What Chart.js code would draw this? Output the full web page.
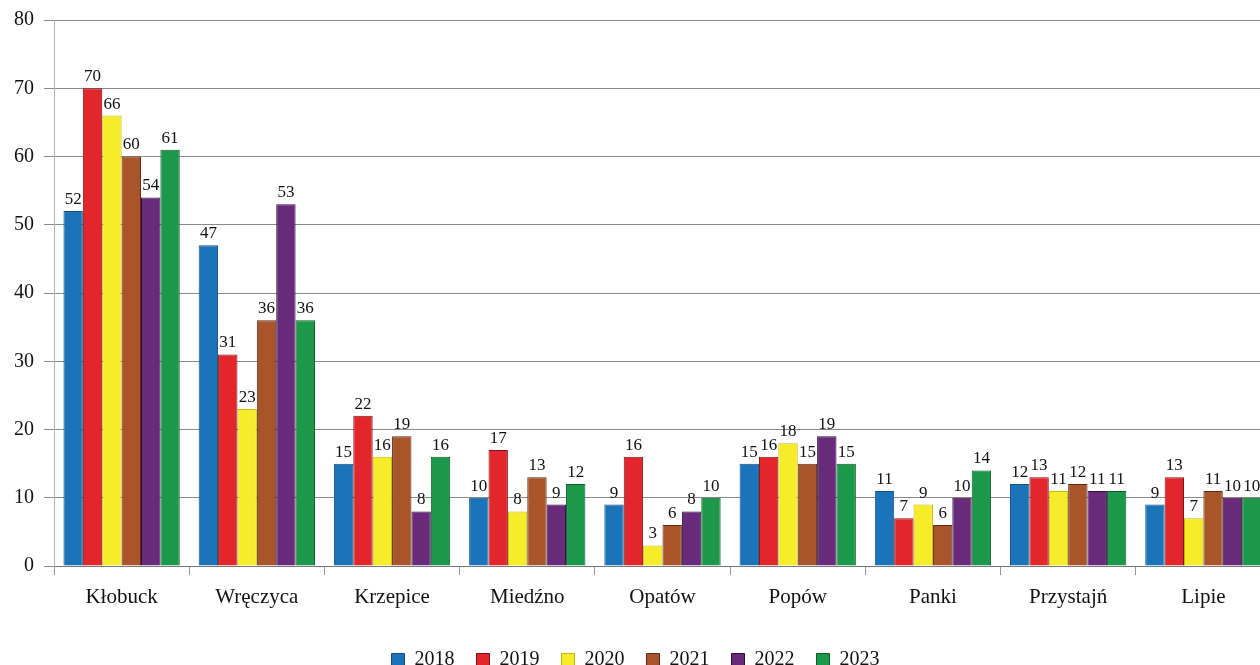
<!DOCTYPE html>
<html>
<head>
<meta charset="utf-8">
<script src="https://cdn.jsdelivr.net/npm/chart.js@4.4.1/dist/chart.umd.min.js"></script>
<style>
  html, body { margin: 0; padding: 0; background: #fff; overflow: hidden; }
  #wrap { width: 1272px; height: 680px; }
</style>
</head>
<body>
<div id="wrap"><canvas id="gminyChart" width="1272" height="680"></canvas></div>
<script>
// gminy
const categories = ['Kłobuck', 'Wręczyca', 'Krzepice', 'Miedźno', 'Opatów', 'Popów', 'Panki', 'Przystajń', 'Lipie'];
const years = ['2018', '2019', '2020', '2021', '2022', '2023'];

// values per year, same order as categories
const v2018 = [52, 47, 15, 10, 9, 15, 11, 12, 9];
const v2019 = [70, 31, 22, 17, 16, 16, 7, 13, 13];
const v2020 = [66, 23, 16, 8, 3, 18, 9, 11, 7];
const v2021 = [60, 36, 19, 13, 6, 15, 6, 12, 11];
const v2022 = [54, 53, 8, 9, 8, 19, 10, 11, 10];
const v2023 = [61, 36, 16, 12, 10, 15, 14, 11, 10];

const yTicks = [0, 10, 20, 30, 40, 50, 60, 70, 80];

const fills = ['#1b74b9', '#e3262b', '#f6ec2a', '#a9552c', '#6a2a7c', '#1b9849'];
const edges = ['#164f80', '#7a1414', '#c9b800', '#5e2a12', '#2e0f38', '#0f5a2a'];

const serif = "'Liberation Serif', 'DejaVu Serif', serif";

// value labels above bars
const barLabels = {
  id: 'barLabels',
  afterDatasetsDraw(chart) {
    const ctx = chart.ctx;
    ctx.save();
    ctx.font = '17px ' + serif;
    ctx.fillStyle = '#111';
    ctx.textAlign = 'center';
    ctx.textBaseline = 'bottom';
    chart.data.datasets.forEach((ds, i) => {
      chart.getDatasetMeta(i).data.forEach((bar, j) => {
        ctx.fillText(ds.data[j], bar.x, bar.y - 3);
      });
    });
    ctx.restore();
  }
};

const series = [v2018, v2019, v2020, v2021, v2022, v2023];

new Chart(document.getElementById('gminyChart'), {
  type: 'bar',
  data: {
    labels: categories,
    datasets: series.map((d, i) => ({
      label: years[i],
      data: d,
      backgroundColor: fills[i],
      borderColor: edges[i],
      borderWidth: 1,
      categoryPercentage: 0.86,
      barPercentage: 1
    }))
  },
  options: {
    responsive: false,
    animation: false,
    layout: { padding: { top: 20, right: 1, left: 0, bottom: 0 } },
    plugins: {
      tooltip: { enabled: false },
      legend: {
        position: 'bottom',
        labels: {
          boxWidth: 13,
          boxHeight: 13,
          padding: 22,
          color: '#111',
          font: { family: serif, size: 20 }
        }
      }
    },
    scales: {
      x: {
        afterFit(scale) { scale.height = 62; },
        grid: {
          drawOnChartArea: false,
          drawTicks: true,
          tickLength: 9,
          color: '#999'
        },
        border: { color: '#777' },
        ticks: {
          color: '#111',
          padding: 10,
          font: { family: serif, size: 21 }
        }
      },
      y: {
        min: 0,
        max: 80,
        afterFit(scale) { scale.width = 54; scale.paddingTop = 0; },
        afterBuildTicks(scale) { scale.ticks = yTicks.map(v => ({ value: v })); },
        grid: {
          color: '#8a8a8a',
          tickLength: 10
        },
        border: { color: '#b5b5b5' },
        ticks: {
          color: '#111',
          padding: 10,
          font: { family: serif, size: 20 }
        }
      }
    }
  },
  plugins: [barLabels]
});
</script>
</body>
</html>
